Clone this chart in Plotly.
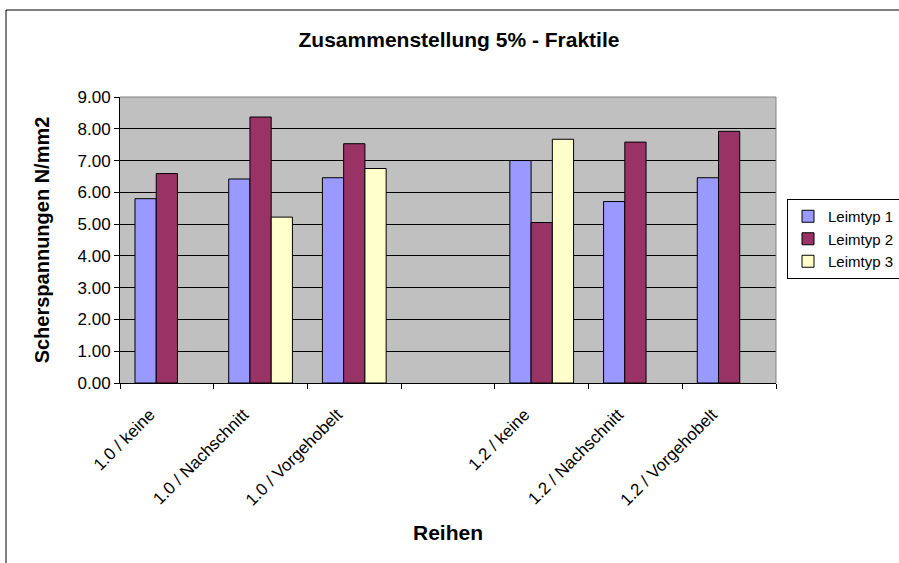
import plotly.graph_objects as go

categories = ["1.0 / keine", "1.0 / Nachschnitt", "1.0 / Vorgehobelt", " ",
              "1.2 / keine", "1.2 / Nachschnitt", "1.2 / Vorgehobelt"]
leimtyp1 = [5.80, 6.42, 6.46, None, 7.00, 5.71, 6.46]
leimtyp2 = [6.59, 8.37, 7.53, None, 5.05, 7.58, 7.92]
leimtyp3 = [None, 5.22, 6.75, None, 7.67, None, None]
series_names = ["Leimtyp 1", "Leimtyp 2", "Leimtyp 3"]
colors = ["#9999FF", "#993366", "#FFFFCC"]
y_ticks = [0, 1, 2, 3, 4, 5, 6, 7, 8, 9]

FONT = "Liberation Sans, Arial, sans-serif"

fig = go.Figure()
for name, vals, col in zip(series_names, [leimtyp1, leimtyp2, leimtyp3], colors):
    fig.add_trace(go.Bar(x=categories, y=vals, name=name,
                         marker=dict(color=col, line=dict(color="black", width=1))))

fig.update_layout(
    width=899, height=563,
    margin=dict(l=120, r=123, t=97, b=180, autoexpand=False),
    paper_bgcolor="white",
    plot_bgcolor="#C0C0C0",
    barmode="group",
    bargap=0.32,
    bargroupgap=0,
    font=dict(family=FONT, color="black"),
    title=dict(text="<b>Zusammenstellung 5% - Fraktile</b>", x=459 / 899, xanchor="center",
               y=1 - 40 / 563, yanchor="middle", font=dict(size=21, family=FONT)),
    showlegend=True,
    legend=dict(xref="container", yref="container", x=787 / 899, xanchor="left",
                y=1 - 199 / 563, yanchor="top",
                bordercolor="black", borderwidth=1, bgcolor="white",
                font=dict(size=15, family=FONT), tracegroupgap=0,
                itemwidth=30),
    xaxis=dict(
        type="category",
        categoryorder="array", categoryarray=categories,
        tickson="boundaries",
        ticks="outside", ticklen=5, tickcolor="black",
        tickangle=-45,
        tickfont=dict(size=17, family=FONT),
        ticklabelshift=-17,
        ticklabelstandoff=14,
        showline=True, linecolor="black", linewidth=1,
        mirror=False,
        title=dict(text="<b>Reihen</b>", font=dict(size=21, family=FONT), standoff=16),
    ),
    yaxis=dict(
        range=[0, 9],
        tickvals=y_ticks,
        tickformat=".2f",
        ticks="outside", ticklen=5, tickcolor="black",
        tickfont=dict(size=17, family=FONT),
        showgrid=True, gridcolor="black", gridwidth=1,
        showline=True, linecolor="black", linewidth=1,
        zeroline=False,
        title=dict(text="<b>Scherspannungen N/mm2</b>", font=dict(size=20, family=FONT), standoff=22),
    ),
)

# plot-area border on top and right (gray)
fig.add_shape(type="line", xref="paper", yref="paper", x0=0, x1=1, y0=1, y1=1,
              line=dict(color="#808080", width=1))
fig.add_shape(type="line", xref="paper", yref="paper", x0=1, x1=1, y0=0, y1=1,
              line=dict(color="#808080", width=1))
# outer chart frame (extends past the image on right/bottom)
fig.add_shape(type="rect", xref="paper", yref="paper",
              x0=(6 - 120) / 656, x1=1.4, y0=-0.8, y1=(383 - 10) / 286,
              line=dict(color="black", width=1), fillcolor="rgba(0,0,0,0)", layer="below")

fig.write_html("out.html", config={"displayModeBar": False},
               post_script="document.body.style.margin='0px';")
